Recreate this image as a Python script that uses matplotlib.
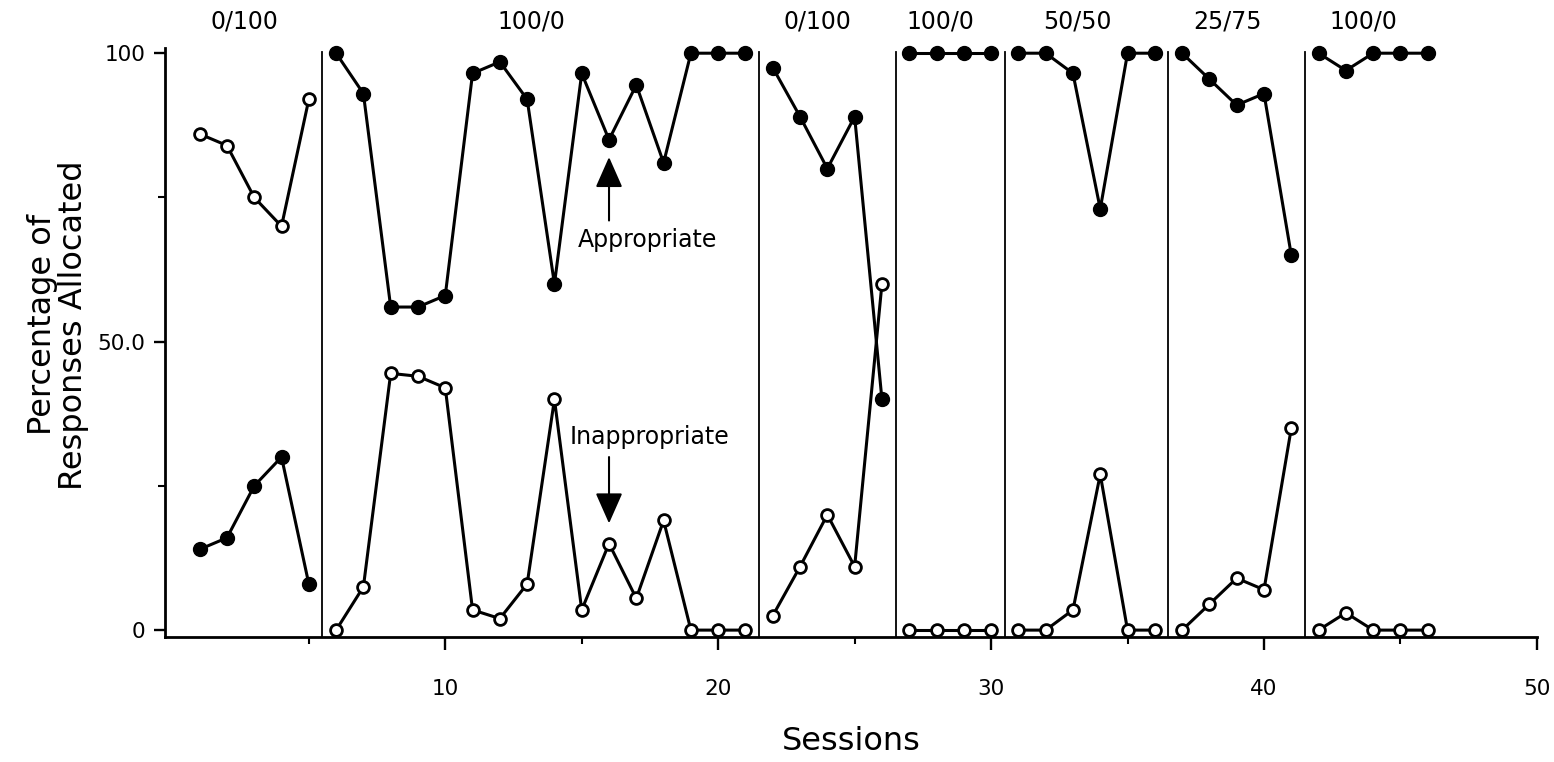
import matplotlib
matplotlib.use("Agg")
import matplotlib.pyplot as plt
import numpy as np

# ---- data ----
phase_labels = ["0/100", "100/0", "0/100", "100/0", "50/50", "25/75", "100/0"]
phase_sessions = [
    [1, 2, 3, 4, 5],
    [6, 7, 8, 9, 10, 11, 12, 13, 14, 15, 16, 17, 18, 19, 20, 21],
    [22, 23, 24, 25, 26],
    [27, 28, 29, 30],
    [31, 32, 33, 34, 35, 36],
    [37, 38, 39, 40, 41],
    [42, 43, 44, 45, 46],
]
appropriate = [
    [14, 16, 25, 30, 8],
    [100, 93, 56, 56, 58, 96.5, 98.5, 92, 60, 96.5, 85, 94.5, 81, 100, 100, 100],
    [97.5, 89, 80, 89, 40],
    [100, 100, 100, 100],
    [100, 100, 96.5, 73, 100, 100],
    [100, 95.5, 91, 93, 65],
    [100, 97, 100, 100, 100],
]
inappropriate = [
    [86, 84, 75, 70, 92],
    [0, 7.5, 44.5, 44, 42, 3.5, 2, 8, 40, 3.5, 15, 5.5, 19, 0, 0, 0],
    [2.5, 11, 20, 11, 60],
    [0, 0, 0, 0],
    [0, 0, 3.5, 27, 0, 0],
    [0, 4.5, 9, 7, 35],
    [0, 3, 0, 0, 0],
]
x_ticks_major = [10, 20, 30, 40, 50]
x_ticks_minor = [5, 15, 25, 35, 45]
y_ticks = [0, 50, 100]
y_ticklabels = ["0", "50.0", "100"]

plt.rcParams['font.family'] = ['DejaVu Sans']

fig = plt.figure(figsize=(15.54, 7.62), dpi=100)
ax = fig.add_axes([0.106, 0.164, 0.883, 0.773])

ax.set_xlim(-0.28, 50)
ax.set_ylim(-1.2, 100.9)

lw = 2.2
for sess, app, inap in zip(phase_sessions, appropriate, inappropriate):
    ax.plot(sess, app, '-', color='black', lw=lw, marker='o', ms=10,
            mfc='black', mec='black', zorder=3, clip_on=False)
    ax.plot(sess, inap, '-', color='black', lw=lw, marker='o', ms=8.5,
            mfc='white', mec='black', mew=2.0, zorder=4, clip_on=False)

# phase change lines
for i in range(len(phase_sessions) - 1):
    xb = (phase_sessions[i][-1] + phase_sessions[i + 1][0]) / 2
    ax.plot([xb, xb], [-1.2, 100.2], color='black', lw=1.3, zorder=2)

# phase labels
for sess, lab in zip(phase_sessions, phase_labels):
    xm = (sess[0] + sess[-1]) / 2 - 0.35
    ax.text(xm, 105.5, lab, ha='center', va='center', fontsize=17, clip_on=False)

# annotations
ax.annotate('', xy=(16, 82), xytext=(16, 71),
            arrowprops=dict(arrowstyle='-|>,head_length=0.95,head_width=0.42',
                            color='black', lw=1.5, mutation_scale=20,
                            shrinkA=0, shrinkB=0))
ax.text(17.4, 67.6, 'Appropriate', ha='center', va='center', fontsize=17)
ax.annotate('', xy=(16, 18.5), xytext=(16, 30),
            arrowprops=dict(arrowstyle='-|>,head_length=0.95,head_width=0.42',
                            color='black', lw=1.5, mutation_scale=20,
                            shrinkA=0, shrinkB=0))
ax.text(17.5, 33.4, 'Inappropriate', ha='center', va='center', fontsize=17)

# axes styling
for s in ['top', 'right']:
    ax.spines[s].set_visible(False)
for s in ['left', 'bottom']:
    ax.spines[s].set_linewidth(2.0)

ax.set_xticks(x_ticks_major)
ax.set_xticks(x_ticks_minor, minor=True)
ax.set_yticks(y_ticks)
ax.set_yticklabels(y_ticklabels)
ax.set_yticks([25, 75], minor=True)
ax.tick_params(axis='both', which='major', direction='out', length=8, width=1.7,
               labelsize=15.5, pad=6)
ax.tick_params(axis='both', which='minor', direction='out', length=5, width=1.5)
ax.tick_params(axis='x', which='major', pad=21, length=9)

ax.set_xlabel('Sessions', fontsize=23, labelpad=20)
ax.set_ylabel('Percentage of\nResponses Allocated', fontsize=23, linespacing=1.0)
ax.yaxis.set_label_coords(-0.055, 0.53)

fig.savefig('out.png', dpi=100)
